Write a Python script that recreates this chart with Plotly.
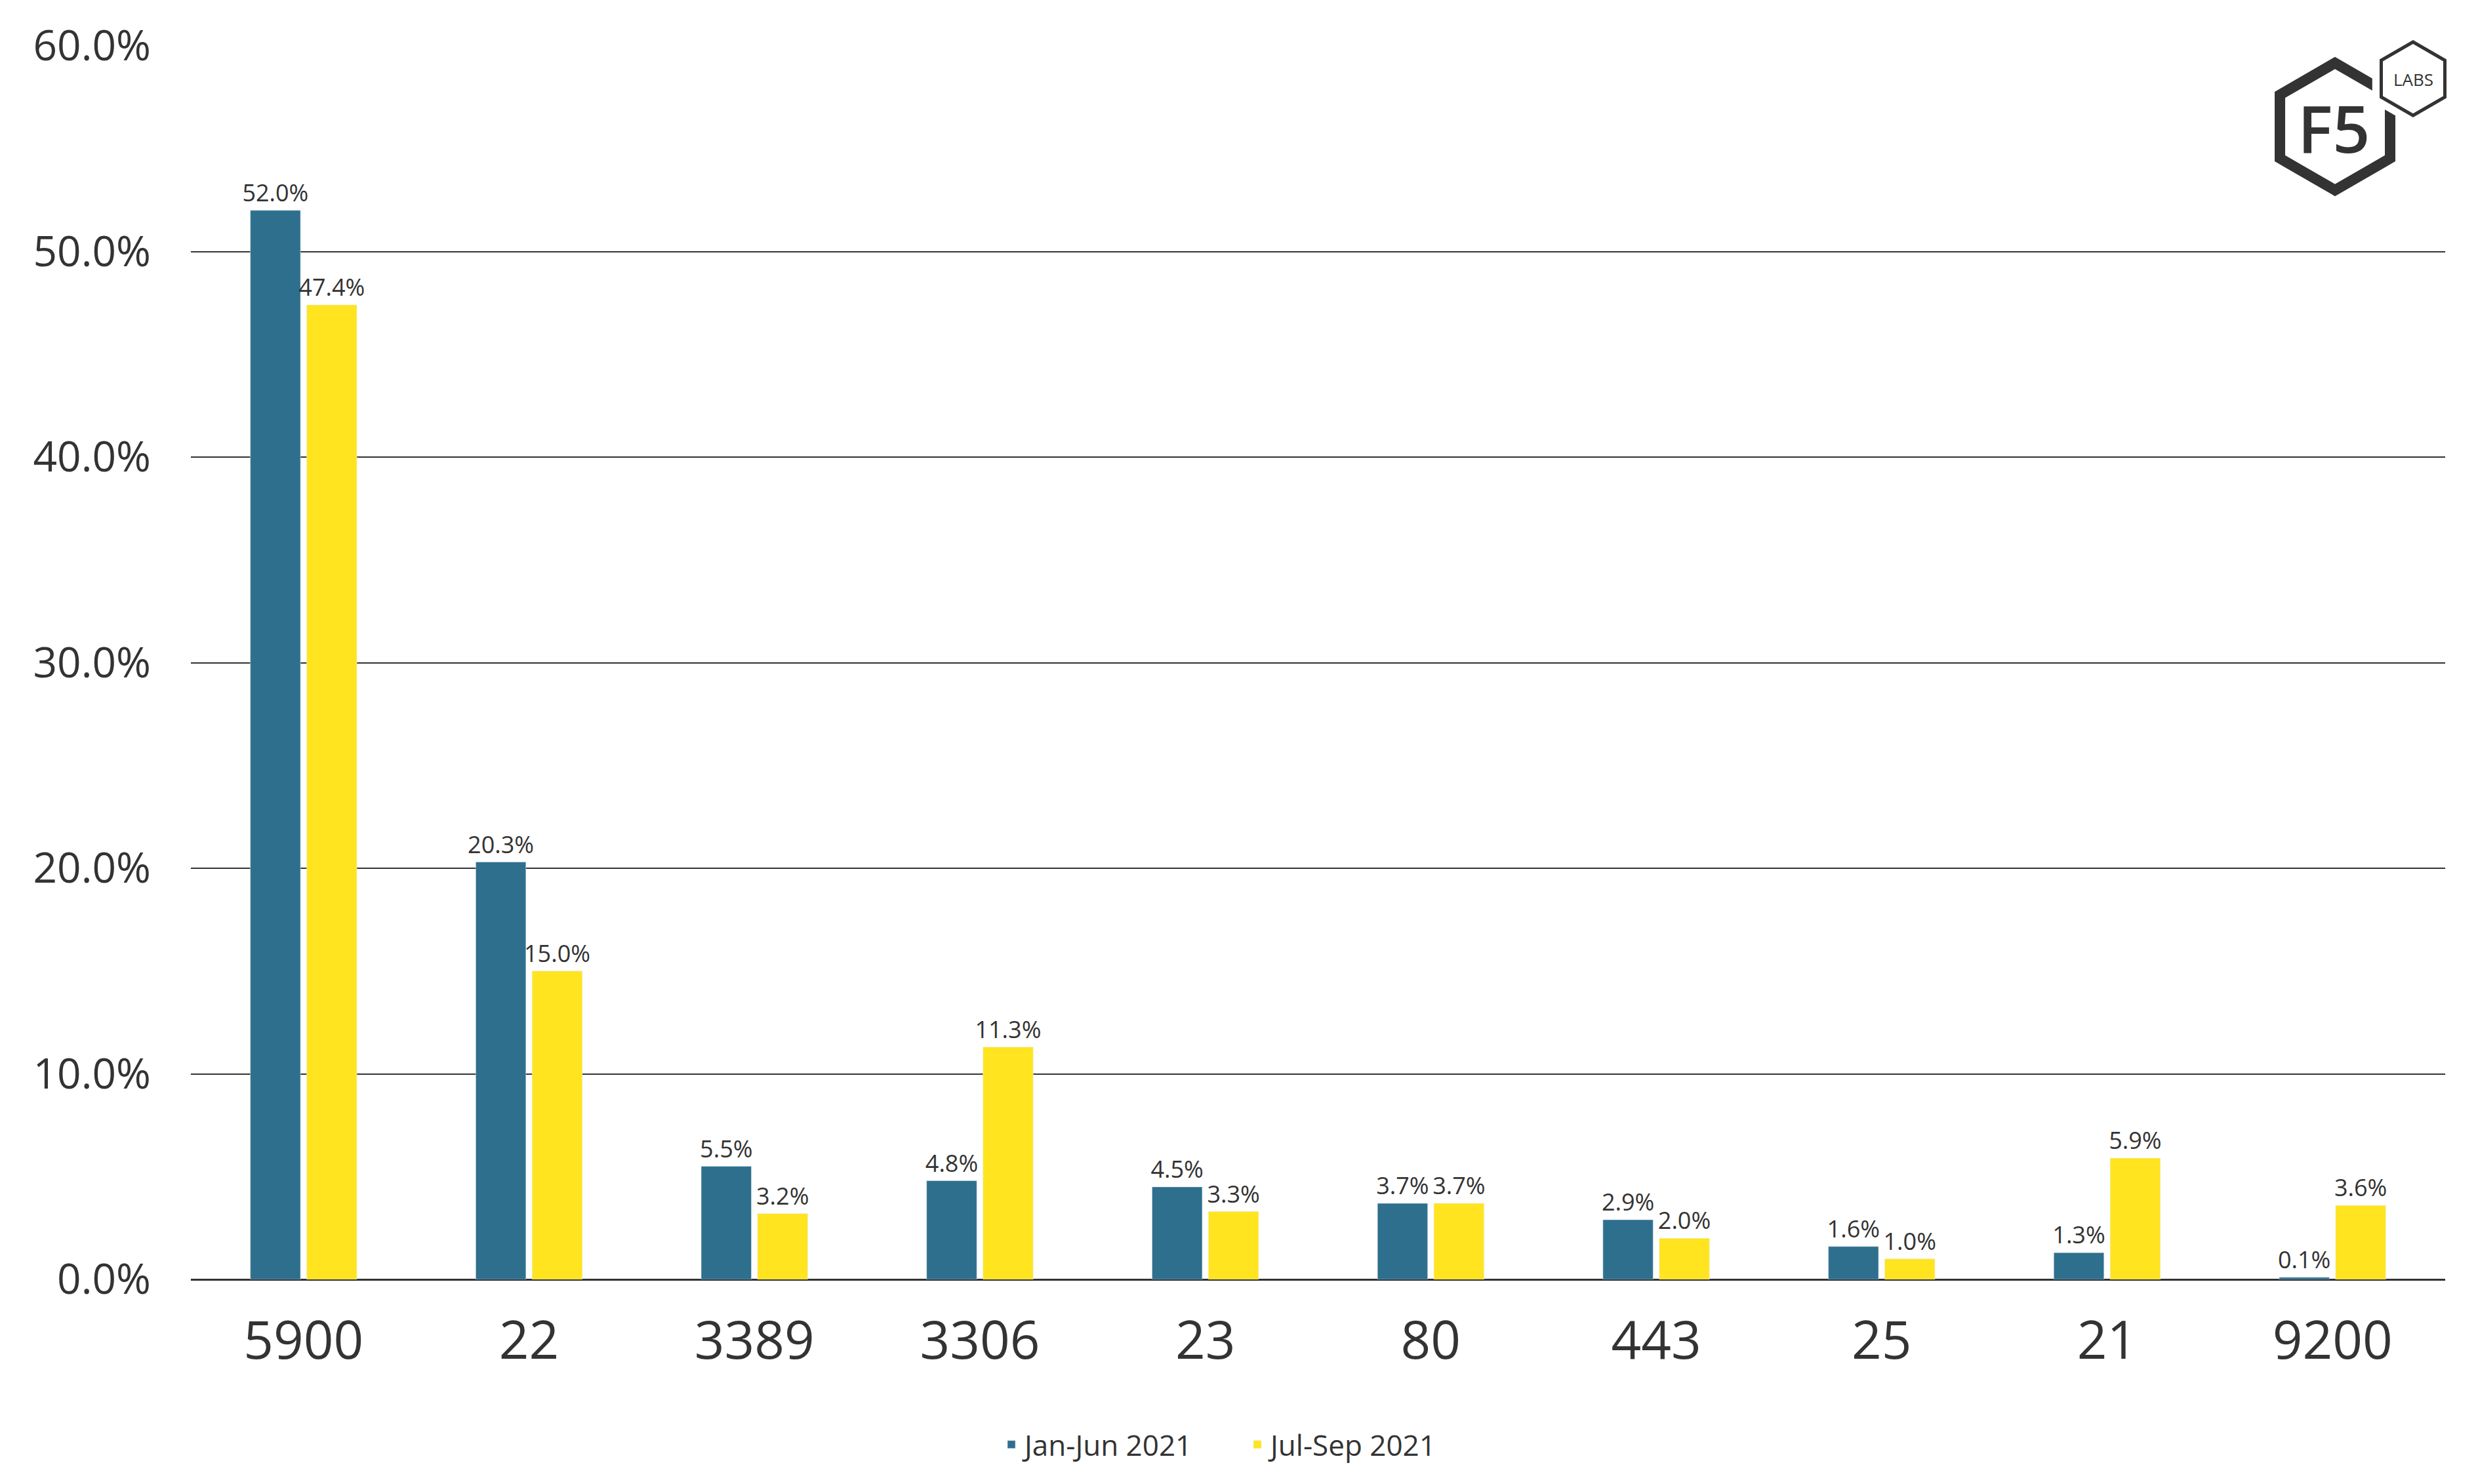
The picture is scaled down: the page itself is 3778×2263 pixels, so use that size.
import math
import plotly.graph_objects as go

ports = ["5900", "22", "3389", "3306", "23", "80", "443", "25", "21", "9200"]
jan_jun = [52.0, 20.3, 5.5, 4.8, 4.5, 3.7, 2.9, 1.6, 1.3, 0.1]
jul_sep = [47.4, 15.0, 3.2, 11.3, 3.3, 3.7, 2.0, 1.0, 5.9, 3.6]

W, H = 3778, 2263
L, R, T, B = 283, 58, 62, 320
PW, PH = W - L - R, H - T - B
DARK = "#333333"


def px(x, y):
    return (x - L) / PW, (H - B - y) / PH


def hex_path(cx, cy, r):
    pts = []
    for i in range(6):
        a = math.radians(90 + 60 * i)
        pts.append(px(cx + r * math.cos(a), cy - r * math.sin(a)))
    return "M " + " L ".join(f"{x:.5f},{y:.5f}" for x, y in pts) + " Z"


fig = go.Figure()
fig.add_bar(x=ports, y=jan_jun, name="Jan-Jun 2021", marker_color="#2E6F8E",
            texttemplate="%{y:.1f}%", textposition="outside")
fig.add_bar(x=ports, y=jul_sep, name="Jul-Sep 2021", marker_color="#FFE41F",
            texttemplate="%{y:.1f}%", textposition="outside")
fig.update_traces(textfont=dict(size=36, color=DARK), cliponaxis=False,
                  constraintext="none")

# F5 Labs logo
fig.add_shape(type="path", path=hex_path(3552, 185, 97), xref="paper", yref="paper",
              line=dict(color=DARK, width=16), fillcolor="rgba(0,0,0,0)")
fig.add_shape(type="path", path=hex_path(3671, 112, 58), xref="paper", yref="paper",
              line=dict(color="white", width=24), fillcolor="white")
fig.add_shape(type="path", path=hex_path(3671, 112, 56), xref="paper", yref="paper",
              line=dict(color=DARK, width=5), fillcolor="white")
x0, y0 = px(3550, 186)
fig.add_annotation(x=x0, y=y0, xref="paper", yref="paper", text="F5", showarrow=False,
                   xanchor="center", yanchor="middle",
                   font=dict(family="Open Sans", size=100, color=DARK, weight=600))
x1, y1 = px(3671, 113)
fig.add_annotation(x=x1, y=y1, xref="paper", yref="paper", text="LABS", showarrow=False,
                   xanchor="center", yanchor="middle",
                   font=dict(family="Open Sans", size=26, color=DARK))

fig.update_layout(
    width=W, height=H,
    margin=dict(l=L, r=R, t=T, b=B),
    paper_bgcolor="white", plot_bgcolor="white",
    font=dict(family="Open Sans", color=DARK),
    barmode="group", bargap=0.5, bargroupgap=0.11,
    legend=dict(orientation="h", xref="container", yref="container", x=0.5, y=0.03,
                xanchor="center", yanchor="middle", font=dict(size=44, color=DARK),
                itemwidth=30, entrywidth=330, traceorder="normal"),
    xaxis=dict(tickfont=dict(size=80, color=DARK), showline=False, ticks="",
               ticklabelstandoff=40),
    yaxis=dict(range=[0, 60], dtick=10, tickformat=".1f", ticksuffix="%",
               tickfont=dict(size=64, color=DARK), showgrid=True, gridcolor=DARK,
               gridwidth=2, zeroline=True, zerolinecolor=DARK, zerolinewidth=3,
               ticklabelstandoff=60),
)

fig.write_html("out.html")
